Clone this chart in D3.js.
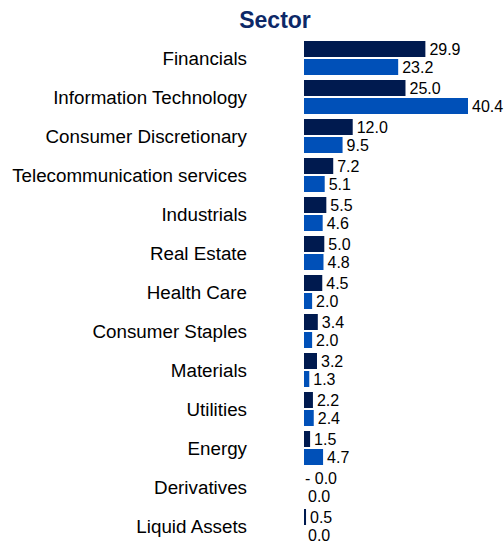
<!DOCTYPE html>
<html>
<head>
<meta charset="utf-8">
<script src="https://cdn.jsdelivr.net/npm/d3@7"></script>
<style>
  body { margin: 0; background: #fff; }
  text { font-family: "Liberation Sans", Arial, sans-serif; }
</style>
</head>
<body>
<div id="chart"></div>
<script>
var sectors = ["Financials", "Information Technology", "Consumer Discretionary",
  "Telecommunication services", "Industrials", "Real Estate", "Health Care",
  "Consumer Staples", "Materials", "Utilities", "Energy", "Derivatives", "Liquid Assets"];
var fundVals = [29.9, 25.0, 12.0, 7.2, 5.5, 5.0, 4.5, 3.4, 3.2, 2.2, 1.5, -0.01, 0.5];
var benchVals = [23.2, 40.4, 9.5, 5.1, 4.6, 4.8, 2.0, 2.0, 1.3, 2.4, 4.7, 0.0, 0.0];

var width = 504, height = 544;
var darkColor = "#001a4f";
var blueColor = "#0050b8";

var svg = d3.select("#chart").append("svg").attr("width", width).attr("height", height);

svg.append("text")
  .attr("x", 275).attr("y", 28)
  .attr("text-anchor", "middle")
  .attr("font-size", 23).attr("font-weight", "bold")
  .attr("fill", "#0d2867")
  .text("Sector");

var x = d3.scaleLinear().domain([0, 40.4]).range([304, 468]);
var y = d3.scaleBand().domain(sectors).range([41, 548]).paddingInner(0).paddingOuter(0);

function fmt(v) {
  if (v < 0) return "- " + Math.abs(v).toFixed(1);
  return v.toFixed(1);
}

var g = svg.selectAll(".grp").data(sectors).enter().append("g")
  .attr("transform", function(d) { return "translate(0," + y(d) + ")"; });

g.append("text")
  .attr("x", 247).attr("y", 17)
  .attr("dy", "0.35em")
  .attr("text-anchor", "end")
  .attr("font-size", 18.8)
  .attr("fill", "#000")
  .text(function(d) { return d; });

var barH = 16;
g.append("rect")
  .attr("x", x(0)).attr("y", 0)
  .attr("width", function(d, i) { return Math.max(0, x(fundVals[i]) - x(0)); })
  .attr("height", barH)
  .attr("fill", darkColor);

g.append("rect")
  .attr("x", x(0)).attr("y", barH + 2)
  .attr("width", function(d, i) { return Math.max(0, x(benchVals[i]) - x(0)); })
  .attr("height", barH)
  .attr("fill", blueColor);

g.append("text")
  .attr("x", function(d, i) { return Math.max(x(0), x(fundVals[i])) + (fundVals[i] < 0 ? 1 : 4); })
  .attr("y", barH / 2).attr("dy", "0.35em")
  .attr("font-size", 16)
  .text(function(d, i) { return fmt(fundVals[i]); });

g.append("text")
  .attr("x", function(d, i) { return x(benchVals[i]) + 4; })
  .attr("y", barH + 2 + barH / 2).attr("dy", "0.35em")
  .attr("font-size", 16)
  .text(function(d, i) { return fmt(benchVals[i]); });
</script>
</body>
</html>
